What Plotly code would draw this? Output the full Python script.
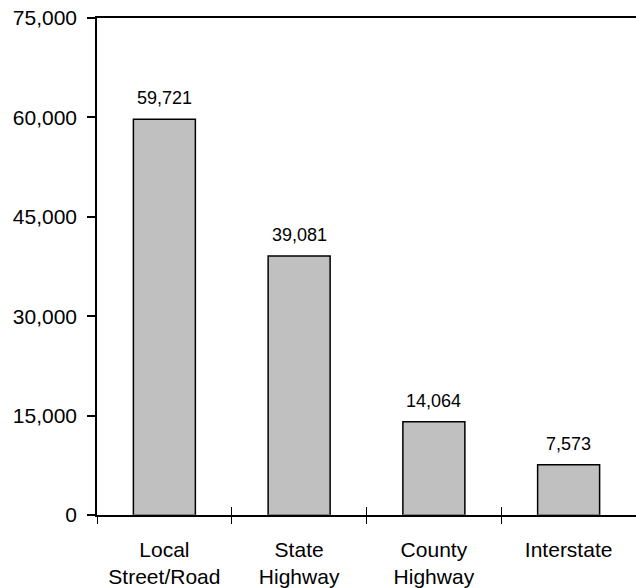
import plotly.graph_objects as go

categories = ["Local<br>Street/Road", "State<br>Highway", "County<br>Highway", "Interstate"]
values = [59721, 39081, 14064, 7573]
y_ticks = [0, 15000, 30000, 45000, 60000, 75000]

FONT = "Liberation Sans, Arial, sans-serif"

fig = go.Figure()
fig.add_trace(go.Bar(
    x=categories,
    y=values,
    width=0.46,
    marker=dict(color="#C0C0C0", line=dict(color="#000000", width=1.5)),
    hoverinfo="skip",
    showlegend=False,
))

# value labels above each bar
for c, v in zip(categories, values):
    fig.add_annotation(
        x=c, y=v, text=f"{v:,}", showarrow=False,
        yanchor="bottom", yshift=9,
        font=dict(family=FONT, size=18, color="#000000"),
    )

# second x axis overlaid on the first, used only for the upward half of the boundary ticks
fig.add_trace(go.Bar(x=categories, y=[0] * len(categories), xaxis="x2",
                     hoverinfo="skip", showlegend=False, marker_color="rgba(0,0,0,0)"))

fig.update_layout(
    width=636, height=588,
    margin=dict(l=97, r=0, t=18, b=71),
    paper_bgcolor="white", plot_bgcolor="white",
    bargap=0.54,
    font=dict(family=FONT, color="#000000"),
    xaxis=dict(
        type="category",
        range=[-0.5, 3.5],
        showline=True, linecolor="#000000", linewidth=1.5,
        mirror=True,
        ticks="outside", ticklen=7, tickwidth=1, tickcolor="#000000",
        tickson="boundaries",
        showgrid=False,
        tickfont=dict(family=FONT, size=21, color="#000000"),
        ticklabelstandoff=15,
    ),
    xaxis2=dict(
        type="category",
        overlaying="x", matches="x", side="bottom",
        range=[-0.5, 3.5],
        ticks="inside", ticklen=8, tickwidth=1, tickcolor="#000000",
        tickson="boundaries",
        showticklabels=False, showgrid=False, showline=False,
    ),
    yaxis=dict(
        range=[0, 75000],
        tickvals=y_ticks,
        ticktext=[f"{t:,}" for t in y_ticks],
        showline=True, linecolor="#000000", linewidth=1.5,
        ticks="outside", ticklen=8, tickwidth=1.5, tickcolor="#000000",
        showgrid=False, zeroline=False,
        tickfont=dict(family=FONT, size=21, color="#000000"),
        ticklabelstandoff=6,
    ),
)

fig.write_html("out.html")
